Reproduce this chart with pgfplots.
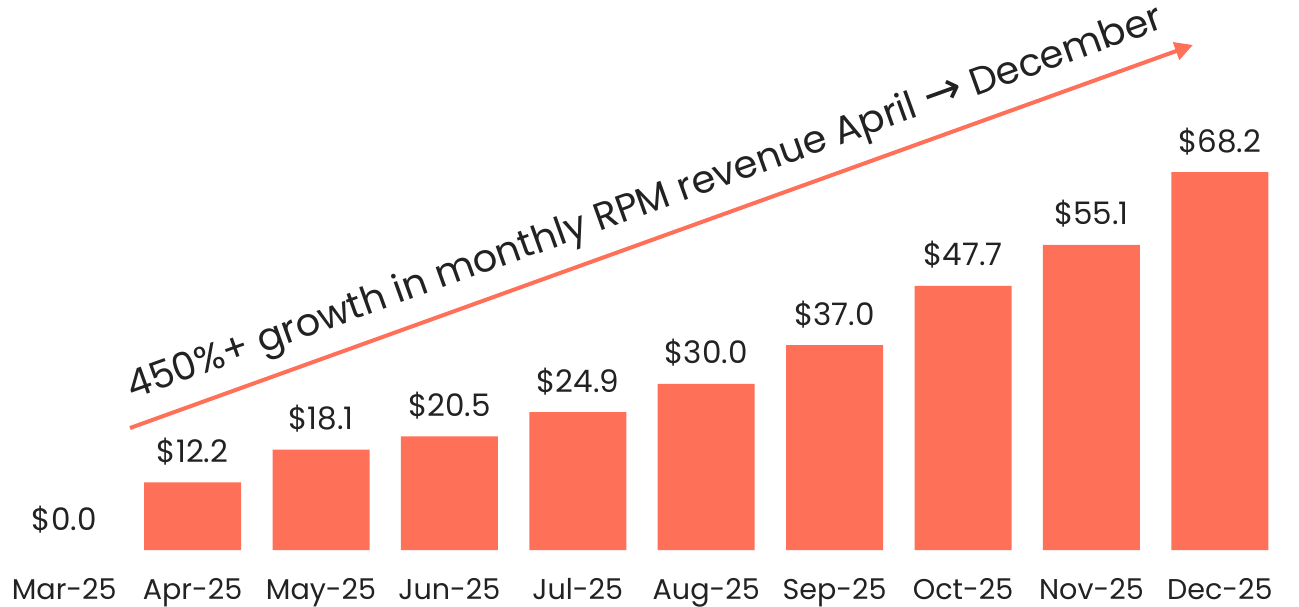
\documentclass[border=0pt]{standalone}
\usepackage{pgfplots}
\pgfplotsset{compat=1.18}
\usepackage{fontspec}
\setmainfont{Poppins}
\newfontfamily\symfont{DejaVu Sans}
\usetikzlibrary{arrows.meta}
\definecolor{barc}{RGB}{255,112,89}
\definecolor{txt}{RGB}{34,34,34}
\begin{document}
\begin{tikzpicture}
\begin{axis}[
 at={(0,0)}, anchor=south west,
 scale only axis, width=642pt, height=275pt,
 xmin=-0.5, xmax=9.5, ymin=0, ymax=99.28,
 axis line style={draw=none}, tick style={draw=none},
 ytick=\empty, xtick={0,...,9},
 xticklabels={Mar-25,Apr-25,May-25,Jun-25,Jul-25,Aug-25,Sep-25,Oct-25,Nov-25,Dec-25},
 xticklabel style={anchor=base, yshift=-20.5pt, font=\fontsize{14.3}{17}\selectfont, text=txt},
 ybar, bar width=48.5pt,
 nodes near coords={\$\pgfmathprintnumber[fixed,fixed zerofill,precision=1]{\pgfplotspointmeta}},
 nodes near coords style={anchor=base, yshift=10pt, font=\fontsize{15.5}{18}\selectfont, text=txt},
 /pgf/number format/assume math mode=true,
 clip=false,
]
\addplot[fill=none, draw=none, bar shift=0pt] coordinates {(0,0)};
\addplot[fill=barc, draw=none, bar shift=0pt] coordinates {(1,12.2) (2,18.1) (3,20.5) (4,24.9) (5,30.0) (6,37.0) (7,47.7) (8,55.1) (9,68.2)};
\draw[barc, line width=2pt, -{Triangle[length=9pt,width=9pt]}] (axis cs:0.5125,22.02) -- (axis cs:8.791,91.16);
\node[rotate=19.8, anchor=base west, inner sep=0pt, text=txt, font=\fontsize{19.2}{22}\selectfont] at (axis cs:0.528,27.08) {450\%+ growth in monthly RPM revenue April {\symfont\fontsize{23}{22}\selectfont →} December};
\end{axis}
\pgfresetboundingbox
\path (0,-28pt) rectangle (649.5pt,275pt);
\end{tikzpicture}
\end{document}
